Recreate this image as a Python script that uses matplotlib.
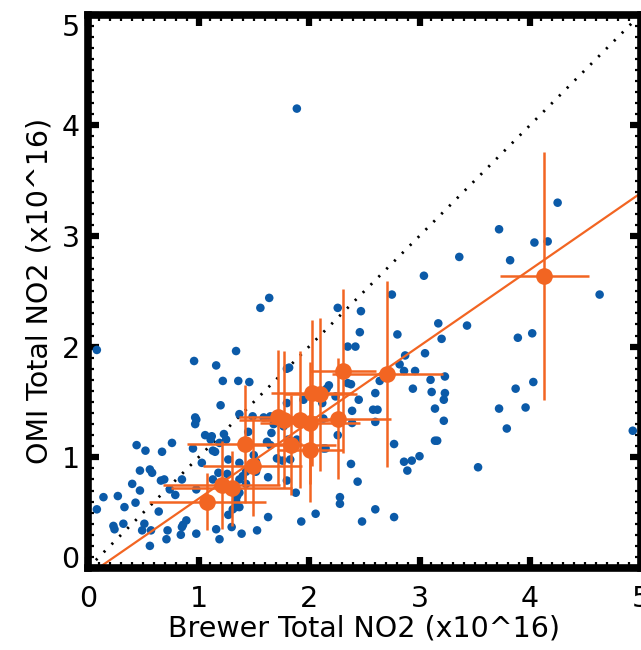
import matplotlib
matplotlib.use("Agg")
import matplotlib.pyplot as plt
from matplotlib.ticker import MultipleLocator
import numpy as np

# ---------------- data ----------------
# individual Brewer vs OMI comparisons (x10^16)
brewer_x = [
    0.08, 1.64, 1.56, 1.34, 0.96, 1.16, 1.22, 1.36, 1.46, 1.80, 1.82, 1.20,
    0.97, 0.98, 0.97, 1.37, 1.49, 1.59, 1.65, 1.80, 1.68, 1.77, 1.66, 1.45,
    1.25, 1.23, 1.06, 1.12, 1.11, 1.15, 1.13, 0.95, 0.44, 0.52, 0.67, 0.76,
    1.03, 1.19, 1.27, 1.37, 1.50, 1.52, 1.62, 1.65, 1.71, 1.76, 1.83, 1.89,
    1.81, 0.47, 0.56, 0.58, 0.40, 0.47, 0.66, 0.69, 0.74, 0.79, 0.85, 0.98,
    1.13, 1.18, 1.26, 1.37, 1.40, 1.43, 1.43, 1.37, 1.35, 1.34, 1.34, 1.31,
    1.27, 1.37, 1.52, 1.63, 1.63, 1.80, 1.88, 0.14, 0.27, 0.08, 0.33, 0.43,
    0.23, 0.24, 0.32, 0.49, 0.51, 0.57, 0.64, 0.72, 0.71, 0.56, 0.85, 0.86,
    0.84, 0.89, 0.98, 1.16, 1.19, 1.30, 1.39, 1.53, 0.55,
    4.25, 3.72, 4.04, 4.16, 3.82, 3.36, 3.04, 4.63, 2.75, 2.47, 2.26, 2.35,
    2.42, 2.46, 2.80, 3.17, 3.20, 3.43, 3.89, 4.02, 3.05, 2.87, 2.82, 2.86,
    2.96, 3.10, 3.23, 2.60, 2.64, 2.35, 2.38, 2.18, 2.16, 2.45, 2.39, 3.11,
    3.23, 3.22, 3.14, 2.58, 2.62, 2.60, 2.39, 3.22, 2.94, 3.87, 4.03, 3.72,
    3.96, 3.79, 4.93, 2.26, 2.77, 3.14, 3.16, 2.38, 2.44, 2.86, 2.93, 2.89,
    3.00, 3.53, 2.28, 2.28, 2.60, 2.06, 1.93, 2.48, 2.77, 2.13, 2.13, 2.24,
    1.95, 2.12, 2.15, 1.89,
]
omi_y = [
    1.97, 2.44, 2.35, 1.96, 1.87, 1.83, 1.69, 1.69, 1.68, 1.80, 1.81, 1.47,
    1.36, 1.34, 1.30, 1.39, 1.37, 1.36, 1.37, 1.49, 1.30, 1.28, 1.22, 1.23,
    1.16, 1.21, 1.20, 1.19, 1.16, 1.05, 1.06, 1.08, 1.11, 1.06, 1.05, 1.13,
    0.95, 1.13, 0.98, 0.95, 1.02, 0.96, 1.14, 1.11, 0.99, 0.97, 0.98, 1.16,
    1.16, 0.88, 0.89, 0.86, 0.76, 0.70, 0.79, 0.80, 0.71, 0.66, 0.80, 0.71,
    0.80, 0.86, 0.85, 0.80, 0.83, 0.87, 0.76, 0.68, 0.65, 0.61, 0.55, 0.53,
    0.48, 0.55, 0.87, 0.82, 0.46, 0.79, 0.68, 0.64, 0.65, 0.53, 0.55, 0.59,
    0.38, 0.35, 0.40, 0.34, 0.40, 0.34, 0.51, 0.34, 0.26, 0.20, 0.37, 0.39,
    0.30, 0.43, 0.31, 0.35, 0.26, 0.37, 0.31, 0.34, -0.01,
    3.30, 3.06, 2.94, 2.95, 2.78, 2.81, 2.64, 2.47, 2.47, 2.32, 2.35, 2.00,
    2.00, 2.13, 2.11, 2.21, 2.07, 2.19, 2.08, 2.12, 1.94, 1.92, 1.84, 1.78,
    1.78, 1.70, 1.73, 1.58, 1.69, 1.67, 1.66, 1.65, 1.62, 1.52, 1.42, 1.59,
    1.58, 1.52, 1.44, 1.43, 1.43, 1.32, 1.31, 1.33, 1.62, 1.62, 1.68, 1.44,
    1.45, 1.26, 1.24, 1.20, 1.12, 1.15, 1.15, 0.94, 0.78, 0.96, 0.97, 0.88,
    1.01, 0.91, 0.64, 0.58, 0.53, 0.49, 0.42, 0.42, 0.46, 1.08, 1.35, 1.55,
    1.52, 1.49, 1.08, 4.15,
]

# binned means with standard deviations
bin_x = [1.08, 1.21, 1.30, 1.49, 1.42, 1.72, 1.77, 1.84, 1.92, 2.01, 2.01,
         2.03, 2.10, 2.26, 2.31, 2.71, 4.13]
bin_y = [0.60, 0.75, 0.72, 0.92, 1.12, 1.36, 1.34, 1.11, 1.34, 1.31, 1.07,
         1.58, 1.57, 1.35, 1.78, 1.75, 2.64]
bin_xerr = [0.53, 0.53, 0.55, 0.45, 0.52, 0.35, 0.40, 0.40, 0.35, 0.45, 0.30,
            0.37, 0.33, 0.48, 0.30, 0.50, 0.40]
bin_yerr = [0.26, 0.40, 0.34, 0.45, 0.53, 0.61, 0.62, 0.45, 0.62, 0.55, 0.47,
            0.66, 0.69, 0.55, 0.74, 0.84, 1.12]

# linear fit of the binned data
fit_slope = 0.69
fit_intercept = -0.065

x_ticks = [0, 1, 2, 3, 4, 5]
y_ticks = [0, 1, 2, 3, 4, 5]
x_label = "Brewer Total NO2 (x10^16)"
y_label = "OMI Total NO2 (x10^16)"

# ---------------- style ----------------
BLUE = "#0B5AA8"
ORANGE = "#F26522"
plt.rcParams["font.family"] = ["DejaVu Sans"]

fig = plt.figure(figsize=(6.41, 6.50), dpi=100)
ax = fig.add_axes([88 / 641, 82 / 650, 552.5 / 641, 553.5 / 650])

ax.set_xlim(0, 5)
ax.set_ylim(0, 5)

# 1:1 line
ax.plot([0, 5], [0, 5], color="black", linestyle=(0, (0.8, 3.2)),
        linewidth=2.0, zorder=2)

# individual points
ax.scatter(brewer_x, omi_y, s=38, color=BLUE, edgecolors="none", zorder=3)

# fit line
fx = np.array([0.0, 5.0])
ax.plot(fx, fit_slope * fx + fit_intercept, color=ORANGE, linewidth=1.6,
        zorder=4)

# binned points with error bars
ax.errorbar(bin_x, bin_y, xerr=bin_xerr, yerr=bin_yerr, fmt="o",
            color=ORANGE, ecolor=ORANGE, elinewidth=1.8, capsize=0,
            markersize=12, markeredgewidth=0, zorder=5)

# axes frame (IDL-like thick box with inward ticks)
for sp in ax.spines.values():
    sp.set_linewidth(5.5)
    sp.set_zorder(10)

ax.set_xticks(x_ticks)
ax.set_yticks(y_ticks)
ax.set_xticklabels([str(t) for t in x_ticks])
ax.set_yticklabels([str(t) for t in y_ticks])
ax.xaxis.set_minor_locator(MultipleLocator(0.1))
ax.yaxis.set_minor_locator(MultipleLocator(0.1))
ax.tick_params(which="major", direction="in", length=8, width=4.5,
               top=True, right=True, labelsize=20.5, color="black")
ax.tick_params(which="minor", direction="in", length=4.5, width=1.6,
               top=True, right=True, color="black")
ax.tick_params(axis="x", which="major", pad=12)
ax.tick_params(axis="y", which="major", pad=6)

# IDL-style: end labels of the y axis kept inside the axis range
ylabels = ax.get_yticklabels()
ylabels[0].set_verticalalignment("baseline")
ylabels[-1].set_verticalalignment("top")

ax.set_xlabel(x_label, fontsize=20.5, labelpad=1)
ax.set_ylabel(y_label, fontsize=20.5, labelpad=6)

fig.savefig("out.png", dpi=100)
